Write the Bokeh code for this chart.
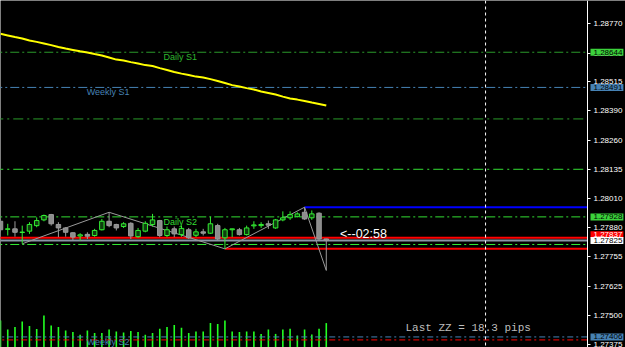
from bokeh.plotting import figure
from bokeh.models import Range1d, FixedTicker, PrintfTickFormatter, Span, Label, ColumnDataSource
from bokeh.core.properties import value
from bokeh.embed import file_html
from bokeh.resources import INLINE

# ---------------- data ----------------
opens = [1.27909, 1.27874, 1.27876, 1.27860, 1.27866, 1.27890, 1.27915, 1.27938, 1.27895, 1.27880,
         1.27859, 1.27845, 1.27852, 1.27847, 1.27872, 1.27909, 1.27895, 1.27886, 1.27900, 1.27842,
         1.27866, 1.27895, 1.27912, 1.27847, 1.27876, 1.27851, 1.27872, 1.27848, 1.27863, 1.27857,
         1.27890, 1.27837, 1.27872, 1.27872, 1.27851, 1.27889, 1.27890, 1.27898, 1.27880, 1.27915,
         1.27924, 1.27929, 1.27948, 1.27924, 1.27944, 1.27832]
highs = [1.27919, 1.27898, 1.27909, 1.27890, 1.27905, 1.27926, 1.27938, 1.27941, 1.27905, 1.27883,
         1.27861, 1.27857, 1.27861, 1.27876, 1.27919, 1.27948, 1.27898, 1.27905, 1.27905, 1.27880,
         1.27909, 1.27941, 1.27915, 1.27886, 1.27886, 1.27890, 1.27880, 1.27876, 1.27876, 1.27929,
         1.27898, 1.27880, 1.27877, 1.27880, 1.27890, 1.27909, 1.27905, 1.27912, 1.27919, 1.27952,
         1.27952, 1.27948, 1.27970, 1.27956, 1.27948, 1.27833]
lows = [1.27861, 1.27847, 1.27842, 1.27811, 1.27854, 1.27883, 1.27909, 1.27890, 1.27840, 1.27842,
        1.27825, 1.27825, 1.27832, 1.27842, 1.27869, 1.27883, 1.27869, 1.27880, 1.27832, 1.27837,
        1.27861, 1.27886, 1.27840, 1.27840, 1.27840, 1.27842, 1.27832, 1.27840, 1.27847, 1.27854,
        1.27825, 1.27789, 1.27840, 1.27847, 1.27847, 1.27876, 1.27880, 1.27876, 1.27876, 1.27909,
        1.27915, 1.27926, 1.27915, 1.27915, 1.27825, 1.27695]
closes = [1.27872, 1.27876, 1.27861, 1.27862, 1.27895, 1.27912, 1.27934, 1.27898, 1.27880, 1.27861,
          1.27840, 1.27850, 1.27844, 1.27869, 1.27909, 1.27890, 1.27880, 1.27898, 1.27845, 1.27869,
          1.27900, 1.27915, 1.27847, 1.27872, 1.27854, 1.27878, 1.27837, 1.27863, 1.27857, 1.27898,
          1.27832, 1.27872, 1.27876, 1.27851, 1.27880, 1.27893, 1.27895, 1.27892, 1.27915, 1.27924,
          1.27938, 1.27941, 1.27919, 1.27941, 1.27832, 1.27825]
volumes = [135, 90, 102, 130, 107, 92, 160, 110, 102, 85,
           77, 64, 85, 72, 72, 90, 80, 75, 82, 77,
           64, 72, 94, 102, 113, 99, 72, 80, 80, 122,
           118, 135, 80, 77, 80, 80, 68, 90, 68, 90,
           94, 60, 90, 65, 94, 122]
ma_values = [1.28724, 1.28717, 1.28710, 1.28704, 1.28695, 1.28689, 1.28682, 1.28675, 1.28667, 1.28660,
             1.28654, 1.28648, 1.28643, 1.28636, 1.28630, 1.28621, 1.28612, 1.28608, 1.28601, 1.28595,
             1.28588, 1.28584, 1.28575, 1.28567, 1.28558, 1.28551, 1.28545, 1.28538, 1.28534, 1.28527,
             1.28519, 1.28510, 1.28501, 1.28495, 1.28488, 1.28482, 1.28473, 1.28467, 1.28460, 1.28451,
             1.28443, 1.28438, 1.28432, 1.28425, 1.28419, 1.28412]
zz_bars = [3, 15, 31, 42, 45]
zz_prices = [1.27811, 1.27948, 1.27789, 1.27970, 1.27695]
price_ticks = [1.27375, 1.27500, 1.27625, 1.27755, 1.27880, 1.28010, 1.28135,
               1.28260, 1.28390, 1.28515, 1.28640, 1.28770]

daily_s1 = 1.28644
weekly_s1 = 1.28491
level_a = 1.28354
level_b = 1.28135
zz_high = 1.27970
daily_s2 = 1.27928
red_level = 1.27837
bid = 1.27825
level_c = 1.27808
zz_low = 1.27789
weekly_s2 = 1.27406
red_level2 = 1.27393
time_bar = 67
timer_text = "<--02:58"
zz_text = "Last ZZ = 18.3 pips"

# ---------------- figure ----------------
AXIS_X = 81.08          # bar position where the price scale starts
X_END = 86.33           # right edge of the window
bars = list(range(len(opens)))
p = figure(width=625, height=347, output_backend="svg", toolbar_location=None,
           x_range=Range1d(0, X_END), y_range=Range1d(1.27360, 1.28869),
           y_axis_location="right", x_axis_location=None,
           min_border_left=0, min_border_top=0, min_border_bottom=0, min_border_right=0,
           background_fill_color="black", border_fill_color="black", outline_line_color=None)
p.grid.visible = False
p.extra_y_ranges = {"vol": Range1d(0, 1735)}

ax = p.yaxis[0]
ax.fixed_location = AXIS_X
ax.ticker = FixedTicker(ticks=price_ticks)
ax.formatter = PrintfTickFormatter(format="%.5f")
ax.axis_line_color = "white"
ax.major_tick_line_color = "white"
ax.major_tick_out = 3
ax.major_tick_in = 0
ax.minor_tick_line_color = None
ax.major_label_standoff = 3
ax.major_label_text_color = "white"
ax.major_label_text_font = "Liberation Sans"
ax.major_label_text_font_size = "8px"

# volumes
p.segment(x0=bars, y0=[0] * len(bars), x1=bars, y1=volumes, y_range_name="vol",
          line_color="#22FF22", line_width=1.6)

# horizontal levels (end at the price scale)
def hline(lvl, color, dash, width=1, start=-1):
    p.segment(x0=[start], y0=[lvl], x1=[AXIS_X], y1=[lvl], line_color=color,
              line_dash=dash, line_width=width)

hline(daily_s1, "#2A9A2A", "9 3 2 3")
hline(weekly_s1, "#4682B4", "9 3 2 3")
hline(level_a, "#2A9A2A", "10 4 2 4")
hline(level_b, "#33DD33", "10 4 2 4")
hline(daily_s2, "#33DD33", "9 3 2 3")
hline(red_level, "#FF0000", "solid", 2)
hline(bid, "#8A96A6", "solid", 2)
hline(level_c, "#33EE33", "9 3 2 3")
hline(weekly_s2, "#4682B4", "6 3 2 3")
hline(red_level2, "#FF0000", "6 3 2 3")
hline(zz_high, "#0000FF", "solid", 2, start=zz_bars[3])
hline(zz_low, "#FF0000", "solid", 2, start=zz_bars[2])

p.add_layout(Span(location=time_bar, dimension="height", line_color="white",
                  line_dash="3 3", line_width=1))

# moving average
p.line(bars, ma_values, line_color="#FFFF00", line_width=2)

# zigzag
p.line(zz_bars, zz_prices, line_color="#9A9A9A", line_width=1)

# candles
bull = [c > o for o, c in zip(opens, closes)]
src = ColumnDataSource(dict(
    x=bars, high=highs, low=lows,
    top=[max(o, c) for o, c in zip(opens, closes)],
    bottom=[min(o, c) for o, c in zip(opens, closes)],
    lc=["#33EE33" if b else "#9A9A9A" for b in bull],
    fc=["#0E3E0E" if b else "#8C8C8C" for b in bull],
))
p.segment(x0="x", y0="low", x1="x", y1="high", line_color="lc", line_width=1, source=src)
p.vbar(x="x", width=0.62, top="top", bottom="bottom", fill_color="fc", line_color="lc",
       line_width=1, source=src)

# level texts
def level_text(x, lvl, txt, color):
    p.text(x=[x], y=[lvl], text=[txt], text_color=color,
           text_font=value("Liberation Sans"), text_font_size="9px", text_baseline="top",
           y_offset=0)

level_text(22.5, daily_s1, "Daily S1", "#2EB82E")
level_text(11.9, weekly_s1, "Weekly S1", "#4682B4")
level_text(22.5, daily_s2, "Daily S2", "#33DD33")
level_text(11.9, weekly_s2, "Weekly S2", "#4682B4")
p.text(x=[46.9], y=[red_level], text=[timer_text], text_color="white",
       text_font=value("Liberation Sans"), text_font_size="12.5px", text_baseline="bottom",
       y_offset=3)

p.add_layout(Label(x=405, y=20, x_units="screen", y_units="screen", text=zz_text,
                   text_color="#BDBDBD", text_font="Liberation Mono", text_font_size="11px",
                   text_baseline="middle"))

# price boxes on the scale
def price_box(lvl, bg, fg, yoff=0):
    p.add_layout(Label(x=AXIS_X, y=lvl, x_offset=3, text="%.5f" % lvl,
                       background_fill_color=bg, text_color=fg, text_font="Liberation Sans",
                       text_font_size="8px", text_baseline="middle", y_offset=yoff,
                       padding=dict(left=3, right=1, top=1, bottom=1)))

price_box(daily_s1, "#3BD23B", "black")
price_box(weekly_s1, "#4682B4", "black")
price_box(daily_s2, "#3BD23B", "black")
price_box(red_level, "#FF0000", "white", 3)
price_box(bid, "white", "black")
price_box(weekly_s2, "#4682B4", "black")

open("out.html", "w").write(file_html(p, INLINE))
